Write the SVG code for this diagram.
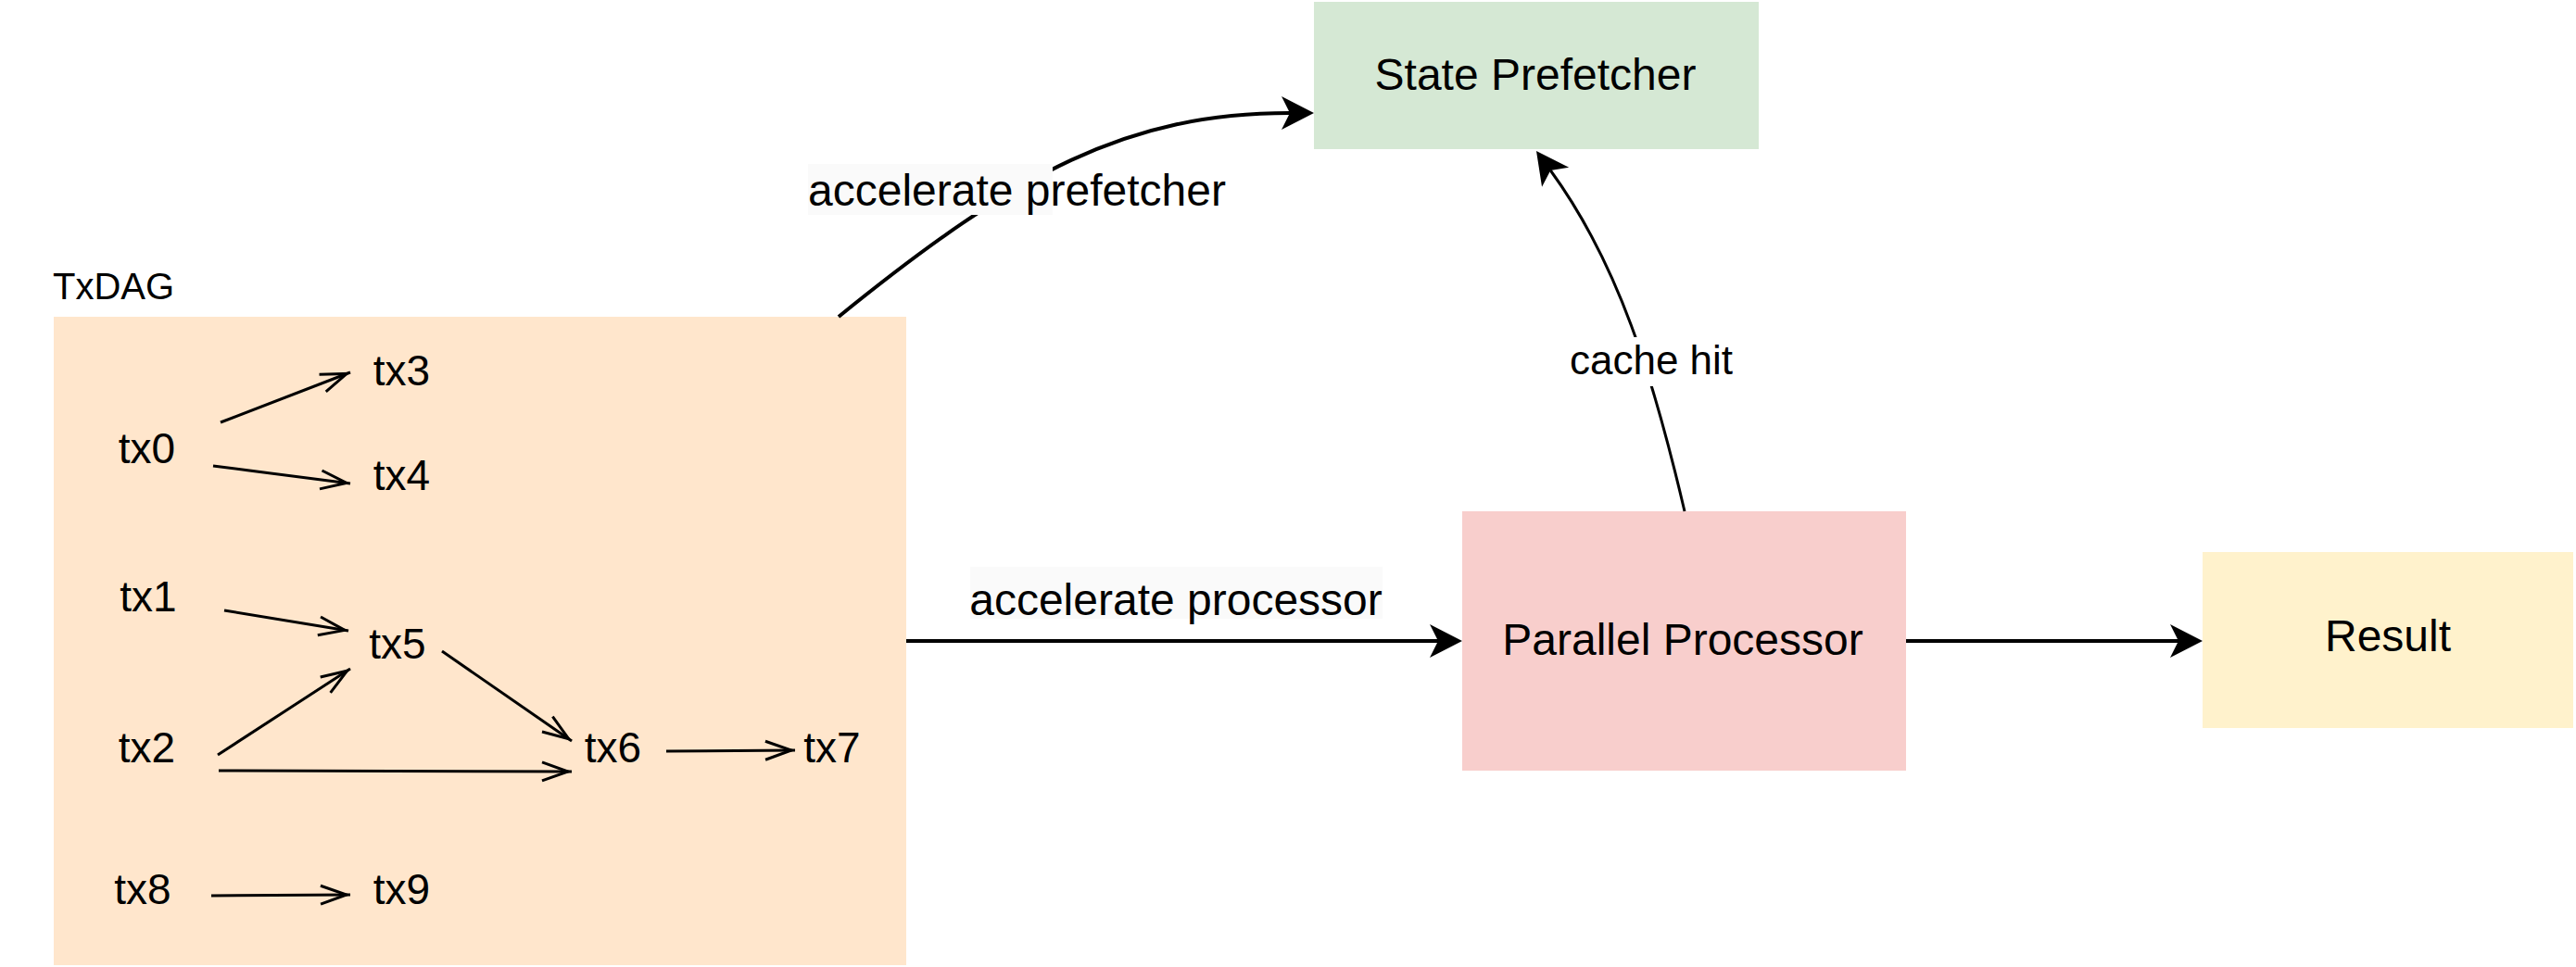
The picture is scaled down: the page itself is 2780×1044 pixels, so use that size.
<svg xmlns="http://www.w3.org/2000/svg" width="2780" height="1044" viewBox="0 0 2780 1044">
<style>
text{font-family:"Liberation Sans",Arial,Helvetica,sans-serif;fill:#000}
.big{font-size:48px}
.tx{font-size:46px;text-anchor:middle}
.mid{text-anchor:middle}
.main{fill:none;stroke:#000;stroke-width:4}
.thin{fill:none;stroke:#000;stroke-width:3}
.dag{fill:none;stroke:#000;stroke-width:3;marker-end:url(#open)}
</style>
<defs>
<marker id="block" markerUnits="userSpaceOnUse" orient="auto" refX="0" refY="0" markerWidth="80" markerHeight="80" overflow="visible">
<path d="M26,0 L-9,-18 L0,0 L-9,18 Z" fill="#000"/>
</marker>
<marker id="open" markerUnits="userSpaceOnUse" orient="auto" refX="0" refY="0" markerWidth="80" markerHeight="80" overflow="visible">
<path d="M-32,-10 L-4,0 L-32,10" fill="none" stroke="#000" stroke-width="3"/>
</marker>
</defs>
<rect width="2780" height="1044" fill="#fff"/>

<g id="txdag">
<rect x="58" y="342" width="920" height="700" fill="#ffe6cc"/>
<text x="57" y="323" style="font-size:40px">TxDAG</text>
</g>
<g id="state-prefetcher">
<rect x="1418" y="2" width="480" height="159" fill="#d5e8d4"/>
<text class="big mid" x="1657" y="97">State Prefetcher</text>
</g>
<g id="parallel-processor">
<rect x="1578" y="552" width="479" height="280" fill="#f8cecc"/>
<text class="big mid" x="1816" y="707">Parallel Processor</text>
</g>
<g id="result">
<rect x="2377" y="596" width="400" height="190" fill="#fff2cc"/>
<text class="big mid" x="2577" y="703">Result</text>
</g>

<g id="tx0"><text class="tx" x="158.5" y="500">tx0</text></g>
<g id="tx1"><text class="tx" x="160" y="660">tx1</text></g>
<g id="tx2"><text class="tx" x="158.5" y="823">tx2</text></g>
<g id="tx3"><text class="tx" x="433.5" y="415.5">tx3</text></g>
<g id="tx4"><text class="tx" x="433.5" y="528.5">tx4</text></g>
<g id="tx5"><text class="tx" x="429" y="711">tx5</text></g>
<g id="tx6"><text class="tx" x="661.5" y="823">tx6</text></g>
<g id="tx7"><text class="tx" x="898" y="823">tx7</text></g>
<g id="tx8"><text class="tx" x="154" y="976">tx8</text></g>
<g id="tx9"><text class="tx" x="433.5" y="976">tx9</text></g>

<g id="connectors">
<path class="dag" d="M238,456 L378,402"/>
<path class="dag" d="M230,503 L378,522"/>
<path class="dag" d="M242,659 L376,681"/>
<path class="dag" d="M235,815 L378,722"/>
<path class="dag" d="M477,703 L617,800"/>
<path class="dag" d="M236,832 L617,833"/>
<path class="dag" d="M719,811 L858,810"/>
<path class="dag" d="M228,967 L378,966"/>

<path class="main" d="M978,692 L1552,692" marker-end="url(#block)"/>
<path class="main" d="M2057,692 L2351,692" marker-end="url(#block)"/>
<path class="main" d="M905,342 C1099,184.5 1218,122 1392,122" marker-end="url(#block)"/>
<path class="thin" d="M1818,552 C1783.8,405.9 1746.5,284.5 1673.3,184" marker-end="url(#block)"/>

<g id="label-accelerate-prefetcher">
<rect x="872" y="177" width="264" height="55" fill="#fafafa"/>
<text class="big" x="872" y="222">accelerate prefetcher</text>
</g>
<g id="label-accelerate-processor">
<rect x="1047" y="612" width="445" height="56" fill="#fafafa"/>
<text class="big mid" x="1269" y="664">accelerate processor</text>
</g>
<g id="label-cache-hit">
<rect x="1692" y="364" width="180" height="53" fill="#fff"/>
<text class="mid" style="font-size:44px" x="1782" y="403.5">cache hit</text>
</g>
</g>
</svg>
